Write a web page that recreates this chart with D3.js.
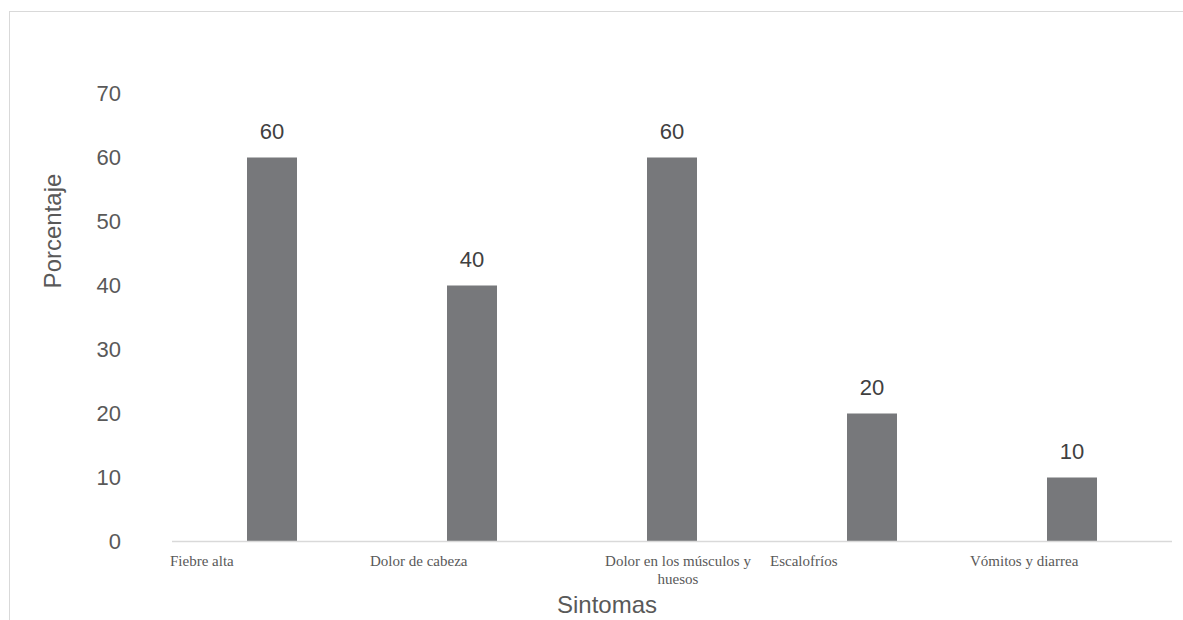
<!DOCTYPE html>
<html>
<head>
<meta charset="utf-8">
<script src="https://cdn.jsdelivr.net/npm/d3@7/dist/d3.min.js"></script>
<style>
  html, body { margin: 0; padding: 0; background: #fff; }
  svg { display: block; }
</style>
</head>
<body>
<svg id="chart" width="1183" height="620"></svg>
<script>
// ---- data ----
const categories = ["Fiebre alta", "Dolor de cabeza", "Dolor en los músculos y huesos", "Escalofríos", "Vómitos y diarrea"];
const categoryLines = [["Fiebre alta"], ["Dolor de cabeza"], ["Dolor en los músculos y", "huesos"], ["Escalofríos"], ["Vómitos y diarrea"]];
const values = [60, 40, 60, 20, 10];
const yTicks = [0, 10, 20, 30, 40, 50, 60, 70];
const yTitle = "Porcentaje";
const xTitle = "Sintomas";

// ---- layout ----
const svg = d3.select("#chart");
const plot = { left: 172, right: 1172, top: 93.5, bottom: 541.5 };
const sans = "'Liberation Sans', Arial, sans-serif";
const serif = "'Liberation Serif', 'Times New Roman', serif";

// frame
svg.append("rect").attr("x", 9.5).attr("y", 11.5).attr("width", 1300).attr("height", 700)
  .attr("fill", "none").attr("stroke", "#d9d9d9").attr("stroke-width", 1);

const y = d3.scaleLinear().domain([0, 70]).range([plot.bottom, plot.top]);
const x = d3.scaleBand().domain(categories).range([plot.left, plot.right]).paddingInner(0.75).paddingOuter(0.375);
const slot = d3.scaleBand().domain(categories).range([plot.left, plot.right]).padding(0);

// y axis ticks
const yAxis = d3.axisLeft(y).tickValues(yTicks).tickSize(0).tickPadding(0).tickFormat(d3.format("d"));
const gy = svg.append("g").attr("transform", `translate(121,0)`).call(yAxis);
gy.select(".domain").remove();
gy.selectAll("text").attr("font-family", sans).attr("font-size", 22).attr("fill", "#595959");

// bars
svg.append("g").selectAll("rect").data(values).join("rect")
  .attr("x", (d, i) => x(categories[i]))
  .attr("y", d => y(d))
  .attr("width", x.bandwidth())
  .attr("height", d => y(0) - y(d))
  .attr("fill", "#77787b");

// baseline
svg.append("line").attr("x1", plot.left).attr("x2", plot.right)
  .attr("y1", y(0)).attr("y2", y(0)).attr("stroke", "#d9d9d9").attr("stroke-width", 1.5);

// value labels
svg.append("g").selectAll("text").data(values).join("text")
  .attr("x", (d, i) => x(categories[i]) + x.bandwidth() / 2)
  .attr("y", d => y(d) - 24)
  .attr("text-anchor", "middle").attr("dominant-baseline", "middle")
  .attr("font-family", sans).attr("font-size", 22).attr("fill", "#404040")
  .text(d => d);

// category labels
const cl = svg.append("g");
categories.forEach((c, i) => {
  const lines = categoryLines[i];
  const multi = lines.length > 1;
  const t = cl.append("text")
    .attr("font-family", serif).attr("font-size", 15).attr("fill", "#595959")
    .attr("text-anchor", multi ? "middle" : "start");
  const tx = multi ? slot(c) + slot.bandwidth() / 2 + 6 : slot(c) - 2;
  lines.forEach((l, j) => {
    t.append("tspan").attr("x", tx).attr("y", y(0) + 24 + j * 18).text(l);
  });
});

// axis titles
svg.append("text").attr("transform", `translate(61,231) rotate(-90)`)
  .attr("text-anchor", "middle").attr("font-family", sans).attr("font-size", 24).attr("fill", "#595959")
  .text(yTitle);
svg.append("text").attr("x", 607).attr("y", 613)
  .attr("text-anchor", "middle").attr("font-family", sans).attr("font-size", 24).attr("fill", "#595959")
  .text(xTitle);
</script>
</body>
</html>
